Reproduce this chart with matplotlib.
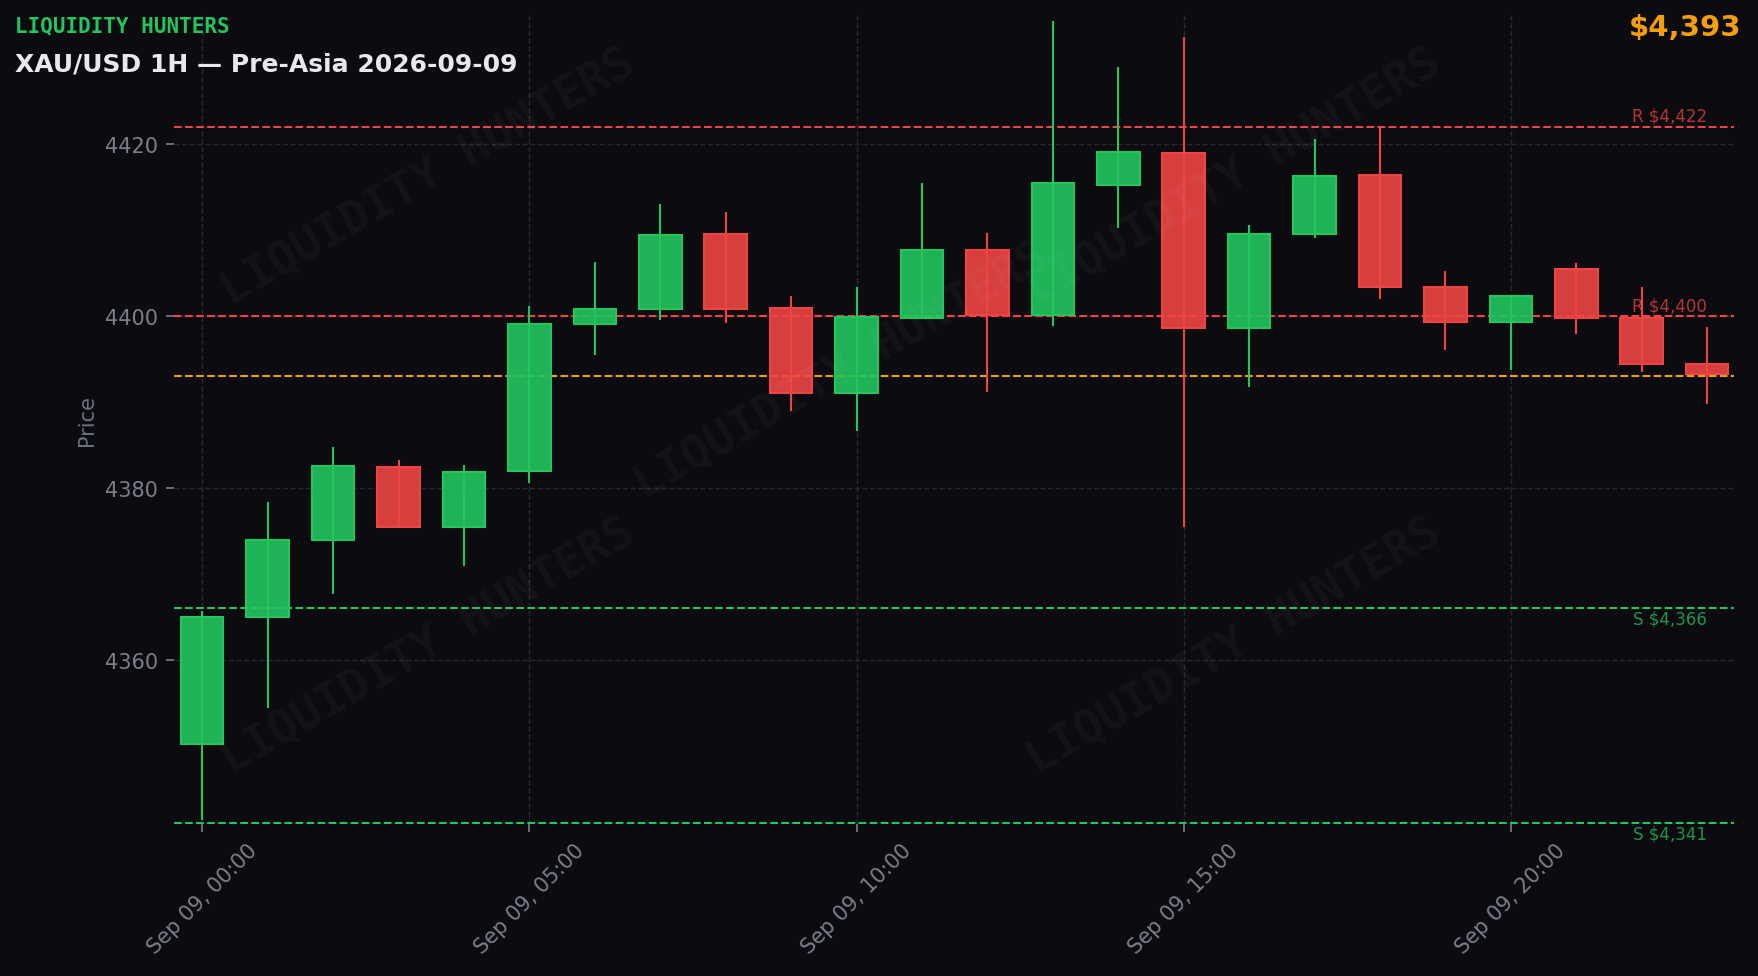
import matplotlib
matplotlib.use("Agg")
import matplotlib.pyplot as plt
import matplotlib.dates as mdates
import matplotlib.colors as mcolors
import pandas as pd

# XAU/USD 1H candles, 2026-09-09
times = pd.date_range("2026-09-09 00:00", periods=24, freq="h")
opens = [4350.2, 4365.0, 4373.9, 4382.4, 4375.4, 4381.9, 4399.0, 4400.8,
         4409.5, 4400.9, 4391.0, 4399.8, 4407.7, 4400.1, 4415.2, 4418.9,
         4398.6, 4409.5, 4416.4, 4403.4, 4399.3, 4405.5, 4399.7, 4394.4]
highs = [4365.7, 4378.4, 4384.8, 4383.2, 4382.7, 4401.2, 4406.3, 4413.0,
         4412.1, 4402.3, 4403.3, 4415.5, 4409.6, 4434.3, 4428.9, 4432.4,
         4410.6, 4420.6, 4421.8, 4405.2, 4402.3, 4406.1, 4403.4, 4398.7]
lows = [4341.4, 4354.4, 4367.6, 4375.4, 4370.9, 4380.6, 4395.4, 4399.5,
        4399.2, 4388.9, 4386.6, 4399.7, 4391.1, 4398.8, 4410.2, 4375.4,
        4391.7, 4409.1, 4402.0, 4396.0, 4393.7, 4397.9, 4393.5, 4389.8]
closes = [4365.0, 4373.9, 4382.5, 4375.4, 4381.8, 4399.0, 4400.8, 4409.4,
          4400.8, 4391.0, 4399.9, 4407.7, 4400.1, 4415.5, 4419.0, 4398.6,
          4409.5, 4416.3, 4403.3, 4399.3, 4402.3, 4399.7, 4394.4, 4393.2]

resistance = [4422, 4400]
support = [4366, 4341]
last_price = 4393

BG = "#0b0b10"
GREEN = "#22c55e"
RED = "#ef4444"
ORANGE = "#f59e0b"
TXT = "#7a7f8a"

fig = plt.figure(figsize=(11.72, 6.5133), dpi=150, facecolor=BG)
ax = fig.add_axes([0.0989, 0.1556, 0.8877, 0.829])
ax.set_facecolor(BG)

up = [c >= o for o, c in zip(opens, closes)]
edge = [GREEN if u else RED for u in up]
face = [mcolors.to_rgba(GREEN if u else RED, 0.9) for u in up]
bottoms = [min(o, c) for o, c in zip(opens, closes)]
heights = [max(abs(c - o), 0.05) for o, c in zip(opens, closes)]

ax.vlines(times, lows, highs, colors=edge, linewidth=1.0, zorder=3)
ax.bar(times, heights, bottom=bottoms, width=0.65 / 24, color=face,
       edgecolor=edge, linewidth=1.0, zorder=4)

# key levels
for lvl in resistance:
    ax.axhline(lvl, color=RED, linestyle="--", linewidth=1.0, zorder=2)
    ax.text(times[-1], lvl + 0.2, f"R ${lvl:,}", ha="right", va="bottom",
            fontsize=8, color=RED, alpha=0.75, zorder=6)
for lvl in support:
    ax.axhline(lvl, color=GREEN, linestyle="--", linewidth=1.0, zorder=2)
    ax.text(times[-1], lvl - 0.2, f"S ${lvl:,}", ha="right", va="top",
            fontsize=8, color=GREEN, alpha=0.75, zorder=6)
ax.axhline(last_price, color=ORANGE, linestyle="--", linewidth=1.0, zorder=2)

# watermark
for wx, wy in [(0.163, 0.80), (0.679, 0.80), (0.4275, 0.56), (0.163, 0.22), (0.679, 0.22)]:
    ax.text(wx, wy, "LIQUIDITY HUNTERS", transform=ax.transAxes, rotation=30,
            ha="center", va="center", fontsize=22, family="monospace",
            fontweight="bold", color="white", alpha=0.035, zorder=5)

ax.set_ylim(4340.9, 4435.1)
ax.set_xlim(times[0] - pd.Timedelta(minutes=26), times[-1] + pd.Timedelta(minutes=25))
ax.set_yticks([4360, 4380, 4400, 4420])
ax.xaxis.set_major_locator(mdates.HourLocator(byhour=[0, 5, 10, 15, 20]))
ax.xaxis.set_major_formatter(mdates.DateFormatter("%b %d, %H:%M"))
plt.setp(ax.get_xticklabels(), rotation=45, ha="center")

ax.grid(True, color="#262732", linestyle="--", linewidth=0.7, zorder=0)
ax.set_axisbelow(True)
for s in ax.spines.values():
    s.set_visible(False)
ax.tick_params(colors=TXT, labelsize=10, length=4)
ax.set_ylabel("Price", color="#6b7280", fontsize=10)

fig.text(15 / 1758, 1 - 26 / 977, "LIQUIDITY HUNTERS", color=GREEN, fontsize=10,
         family="monospace", fontweight="bold", ha="left", va="center")
fig.text(15 / 1758, 1 - 65 / 977, "XAU/USD 1H \u2014 Pre-Asia 2026-09-09",
         color="#e8e8ee", fontsize=12, fontweight="bold", ha="left", va="center")
fig.text(1741 / 1758, 1 - 28 / 977, f"${last_price:,}", color=ORANGE,
         fontsize=14, fontweight="bold", ha="right", va="center")

fig.savefig("out.png", dpi=150, facecolor=BG)
